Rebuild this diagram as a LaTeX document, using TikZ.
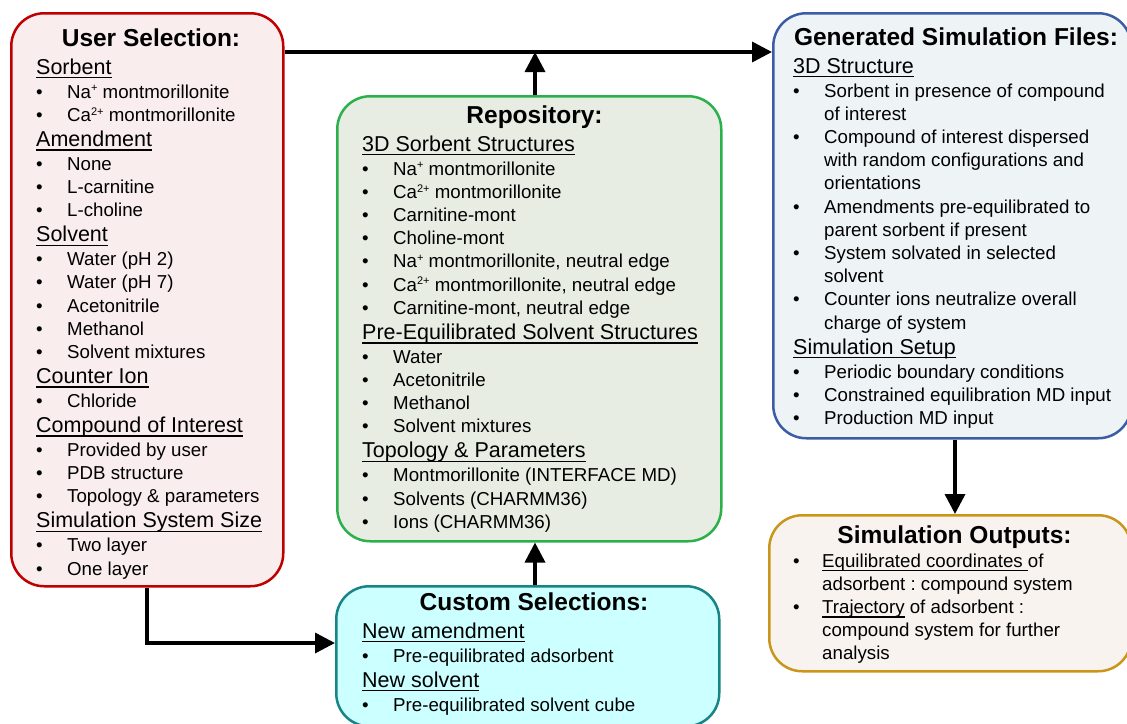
\documentclass[tikz,border=0pt]{standalone}
\usepackage{fontspec}
\setmainfont{Liberation Sans}
\usetikzlibrary{arrows.meta}
\frenchspacing

\definecolor{selred}{HTML}{C00000}
\definecolor{selfill}{HTML}{F9EDED}
\definecolor{repogreen}{HTML}{2BB04C}
\definecolor{repofill}{HTML}{E8EDE4}
\definecolor{genblue}{HTML}{3A5DA6}
\definecolor{genfill}{HTML}{EEF4F5}
\definecolor{outgold}{HTML}{C9961A}
\definecolor{outfill}{HTML}{F8F3EF}
\definecolor{custeal}{HTML}{178585}
\definecolor{custfill}{HTML}{CCFFFF}

% underlined text with a fixed rule below the baseline
\newcommand\undl[1]{\setbox0\hbox{#1}\rlap{\rule[-4.3pt]{\wd0}{1.4pt}}\box0\relax}
\newcommand\listhead[1]{\multicolumn{2}{@{}l@{}}{\fontsize{21.5}{23.2}\selectfont\rule[-7.76pt]{0pt}{25.8pt}\undl{#1}}}
\newcommand\ionch[1]{\raisebox{6.2pt}{\fontsize{11}{11}\selectfont #1}}

\begin{document}
\begin{tikzpicture}[
    x=1pt, y=-1pt,
    box/.style={draw, rounded corners=33pt, line width=2.5pt, inner sep=0pt, anchor=north west},
    title/.style={font=\fontsize{24.5}{28}\selectfont\bfseries, anchor=base, inner sep=0pt},
    list/.style={font=\fontsize{18.7}{23.2}\selectfont, anchor=base west, inner sep=0pt},
    flow/.style={line width=3.5pt, -{Triangle[length=20pt, width=20pt]}}
]
\useasboundingbox (0,0) rectangle (1127,723);

% boxes
\node[box, draw=selred, fill=selfill, minimum width=272pt, minimum height=573pt] (usersel) at (10,12) {};
\node[box, draw=repogreen, fill=repofill, minimum width=384pt, minimum height=445pt] (repo) at (336,95) {};
\node[box, draw=genblue, fill=genfill, minimum width=358pt, minimum height=425pt] (gensim) at (772,12) {};
\node[box, draw=outgold, fill=outfill, minimum width=362pt, minimum height=156pt] (simout) at (768,514) {};
\node[box, draw=custeal, fill=custfill, minimum width=383pt, minimum height=140pt] (custom) at (335,585) {};

% titles
\node[title] (usertitle) at (151,46) {User Selection:};
\node[title] (repotitle) at (534.5,123) {Repository:};
\node[title] (gentitle) at (956,45) {Generated Simulation Files:};
\node[title] (outtitle) at (954.5,543) {Simulation Outputs:};
\node[title] (custtitle) at (534,610) {Custom Selections:};

% lists
\node[list] (userlist) at (36,74) {%
\begin{tabular}[t]{@{}p{31pt}@{}l@{}}
\listhead{Sorbent}\\
\textbullet & Na\ionch{+} montmorillonite\\
\textbullet & Ca\ionch{2+} montmorillonite\\
\listhead{Amendment}\\
\textbullet & None\\
\textbullet & L-carnitine\\
\textbullet & L-choline\\
\listhead{Solvent}\\
\textbullet & Water (pH 2)\\
\textbullet & Water (pH 7)\\
\textbullet & Acetonitrile\\
\textbullet & Methanol\\
\textbullet & Solvent mixtures\\
\listhead{Counter Ion}\\
\textbullet & Chloride\\
\listhead{Compound of Interest}\\
\textbullet & Provided by user\\
\textbullet & PDB structure\\
\textbullet & Topology \& parameters\\
\listhead{Simulation System Size}\\
\textbullet & Two layer\\
\textbullet & One layer
\end{tabular}};

\node[list] (repolist) at (362,151) {%
\begin{tabular}[t]{@{}p{31pt}@{}l@{}}
\listhead{3D Sorbent Structures}\\
\textbullet & Na\ionch{+} montmorillonite\\
\textbullet & Ca\ionch{2+} montmorillonite\\
\textbullet & Carnitine-mont\\
\textbullet & Choline-mont\\
\textbullet & Na\ionch{+} montmorillonite, neutral edge\\
\textbullet & Ca\ionch{2+} montmorillonite, neutral edge\\
\textbullet & Carnitine-mont, neutral edge\\
\listhead{Pre-Equilibrated Solvent Structures}\\
\textbullet & Water\\
\textbullet & Acetonitrile\\
\textbullet & Methanol\\
\textbullet & Solvent mixtures\\
\listhead{Topology \& Parameters}\\
\textbullet & Montmorillonite (INTERFACE MD)\\
\textbullet & Solvents (CHARMM36)\\
\textbullet & Ions (CHARMM36)
\end{tabular}};

\node[list] (genlist) at (793,73) {%
\begin{tabular}[t]{@{}p{31pt}@{}l@{}}
\listhead{3D Structure}\\
\textbullet & Sorbent in presence of compound\\
 & of interest\\
\textbullet & Compound of interest dispersed\\
 & with random configurations and\\
 & orientations\\
\textbullet & Amendments pre-equilibrated to\\
 & parent sorbent if present\\
\textbullet & System solvated in selected\\
 & solvent\\
\textbullet & Counter ions neutralize overall\\
 & charge of system\\
\listhead{Simulation Setup}\\
\textbullet & Periodic boundary conditions\\
\textbullet & Constrained equilibration MD input\\
\textbullet & Production MD input
\end{tabular}};

\node[list] (outlist) at (793,567) {%
\begin{tabular}[t]{@{}p{29pt}@{}l@{}}
\textbullet & \undl{Equilibrated coordinates\ }of\\
 & adsorbent : compound system\\
\textbullet & \undl{Trajectory} of adsorbent :\\
 & compound system for further\\
 & analysis
\end{tabular}};

\node[list] (custlist) at (362,638) {%
\begin{tabular}[t]{@{}p{31pt}@{}l@{}}
\listhead{New amendment}\\
\textbullet & Pre-equilibrated adsorbent\\
\listhead{New solvent}\\
\textbullet & Pre-equilibrated solvent cube
\end{tabular}};

% connectors
\coordinate (mainline) at (535,52);
\coordinate (elbow) at (147,643);
\coordinate (dropx) at (955,0);
\draw[flow] ([yshift=-40pt]usersel.north east) -- ([yshift=-40pt]gensim.north west);
\draw[flow] (repo.north -| mainline) -- (mainline);
\draw[flow] (custom.north -| mainline) -- (repo.south -| mainline);
\draw[flow] (usersel.south -| elbow) -- (elbow) -- (custom.west |- elbow);
\draw[flow] (gensim.south -| dropx) -- (simout.north -| dropx);
\end{tikzpicture}
\end{document}
